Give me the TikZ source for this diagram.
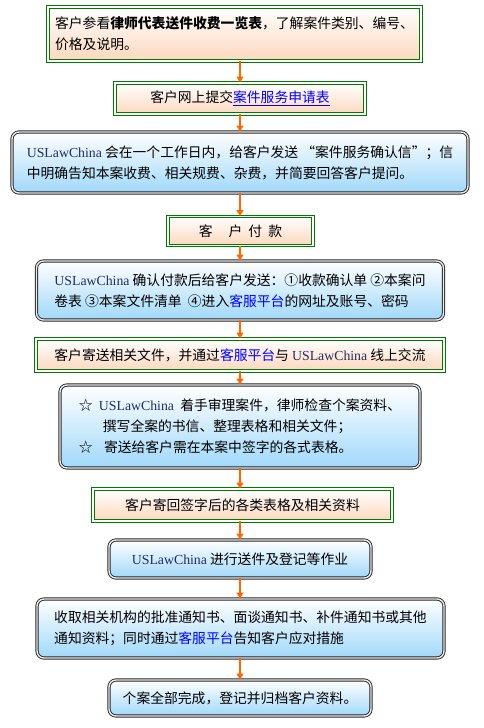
\documentclass[tikz,border=0pt]{standalone}
\usepackage{fontspec}
\setmainfont{Noto Sans CJK SC}
\newfontfamily\uslfont{Liberation Serif}
\usetikzlibrary{arrows.meta,shadows}
\definecolor{boxgreen}{RGB}{0,122,0}
\definecolor{peach}{RGB}{252,216,190}
\definecolor{skyblue}{RGB}{160,216,250}
\definecolor{arroworange}{RGB}{255,102,0}
\definecolor{uslblue}{RGB}{35,45,95}
\definecolor{linkblue}{RGB}{0,0,255}
\newcommand{\usl}{{\uslfont\color{uslblue}USLawChina}}
\newcommand{\kefu}{\textcolor{linkblue}{客服平台}}
\tikzset{
  greenbox/.style={draw=boxgreen, double=white, line width=0.9pt, double distance=1.6pt,
    top color=white, bottom color=peach, inner sep=0pt, align=left,
    font=\fontsize{13.8pt}{21pt}\selectfont},
  bluebox/.style={draw=black!85, double=black!8, line width=0.9pt, double distance=1.4pt,
    rounded corners=7pt, top color=white, bottom color=skyblue, inner sep=0pt, align=left,
    drop shadow={shadow xshift=1pt, shadow yshift=-1pt, opacity=0.35},
    font=\fontsize{13.8pt}{21pt}\selectfont},
  flow/.style={draw=arroworange, line width=1.3pt, -{Triangle[length=6pt,width=7pt]}}
}
\begin{document}
\begin{tikzpicture}[x=1pt,y=-1pt]
\useasboundingbox (0,0) rectangle (483,728);
\node[greenbox, minimum width=373pt, minimum height=54pt] (fee) at (234.5,34) {客户参看\textbf{律师代表送件收费一览表}，了解案件类别、编号、\\价格及说明。};
\node[greenbox, minimum width=250pt, minimum height=31pt] (apply) at (240,98.5) {客户网上提交\textcolor{linkblue}{\underline{案件服务申请表}}};
\node[bluebox, minimum width=456pt, minimum height=61pt] (confirm) at (240,162.5) {\usl\ 会在一个工作日内，给客户发送 “案件服务确认信”；信\\中明确告知本案收费、相关规费、杂费，并简要回答客户提问。};
\node[greenbox, minimum width=145pt, minimum height=29pt] (pay) at (240.5,231) {客\hspace{16pt}户\hspace{6pt}付\hspace{6pt}款};
\node[bluebox, minimum width=407pt, minimum height=59pt] (send) at (240,290.5) {\usl\ 确认付款后给客户发送：①收款确认单\ ②本案问\\卷表\ ③本案文件清单\ \ ④进入\kefu{}的网址及账号、密码};
\node[greenbox, minimum width=408pt, minimum height=32pt] (chat) at (240,355) {客户寄送相关文件，并通过\kefu{}与 \usl\ 线上交流};
\node[bluebox, minimum width=360pt, minimum height=83pt] (handle) at (240,426.5) {\makebox[20pt][l]{☆}\usl\ \ 着手审理案件，律师检查个案资料、\\\hspace*{24pt}撰写全案的书信、整理表格和相关文件；\\\makebox[22pt][l]{☆}\ 寄送给客户需在本案中签字的各式表格。};
\node[greenbox, minimum width=299pt, minimum height=32pt] (return) at (242.5,505) {客户寄回签字后的各类表格及相关资料};
\node[bluebox, minimum width=262pt, minimum height=38pt] (file) at (240,559) {\usl\ 进行送件及登记等作业};
\node[bluebox, minimum width=407pt, minimum height=59pt] (notice) at (240.5,628.5) {收取相关机构的批准通知书、面谈通知书、补件通知书或其他\\通知资料；同时通过\kefu{}告知客户应对措施};
\node[bluebox, minimum width=262pt, minimum height=36pt] (done) at (240,698) {个案全部完成，登记并归档客户资料。};
\coordinate (axis) at (240,0);
\foreach \a/\b in {fee/apply,apply/confirm,confirm/pay,pay/send,send/chat,chat/handle,handle/return,return/file,file/notice,notice/done}
  \draw[flow] (\a.south -| axis) -- (\b.north -| axis);
\end{tikzpicture}
\end{document}
